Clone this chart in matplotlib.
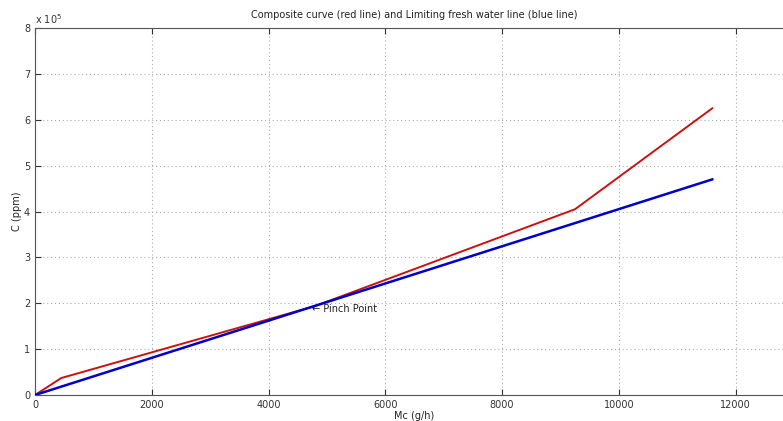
import matplotlib
matplotlib.use("Agg")
import matplotlib.pyplot as plt
from matplotlib.ticker import FuncFormatter, MultipleLocator

# composite curve (red) and limiting fresh water line (blue)
mc_red = [0, 450, 4800, 9250, 11600]
c_red = [0, 0.37e5, 1.94e5, 4.05e5, 6.25e5]
mc_blue = [0, 11600]
c_blue = [0, 4.70e5]

pinch_mc = 4750
pinch_c = 1.87e5

fig = plt.figure(figsize=(7.83, 4.21), dpi=100)
ax = fig.add_axes([35 / 783, 26 / 421, 759 / 783, 367 / 421])

ax.plot(mc_red, c_red, color="#cc1111", lw=1.4, zorder=3)
ax.plot(mc_blue, c_blue, color="#0000cc", lw=1.8, zorder=4)

ax.text(pinch_mc, pinch_c, "\u2190 Pinch Point", fontsize=7, ha="left",
        va="center", color="#222222")

ax.set_xlim(0, 13000)
ax.set_ylim(0, 8e5)
ax.xaxis.set_major_locator(MultipleLocator(2000))
ax.yaxis.set_major_locator(MultipleLocator(1e5))
ax.yaxis.set_major_formatter(FuncFormatter(lambda v, p: f"{v / 1e5:g}"))

ax.grid(True, linestyle=(0, (1, 2.5)), color="#ababab", lw=0.8)
ax.tick_params(direction="in", top=True, right=True, labelsize=7,
               colors="#333333", length=4)
for s in ax.spines.values():
    s.set_color("#555555")
    s.set_linewidth(0.8)

ax.text(0, 1.005, "x 10$^5$", transform=ax.transAxes, fontsize=7,
        ha="left", va="bottom", color="#333333")

ax.set_title("Composite curve (red line) and Limiting fresh water line (blue line)",
             fontsize=7, color="#222222", pad=7)
ax.set_xlabel("Mc (g/h)", fontsize=7, color="#222222", labelpad=1)
ax.set_ylabel("C (ppm)", fontsize=7, color="#222222", labelpad=1)

fig.savefig("out.png", dpi=100)
